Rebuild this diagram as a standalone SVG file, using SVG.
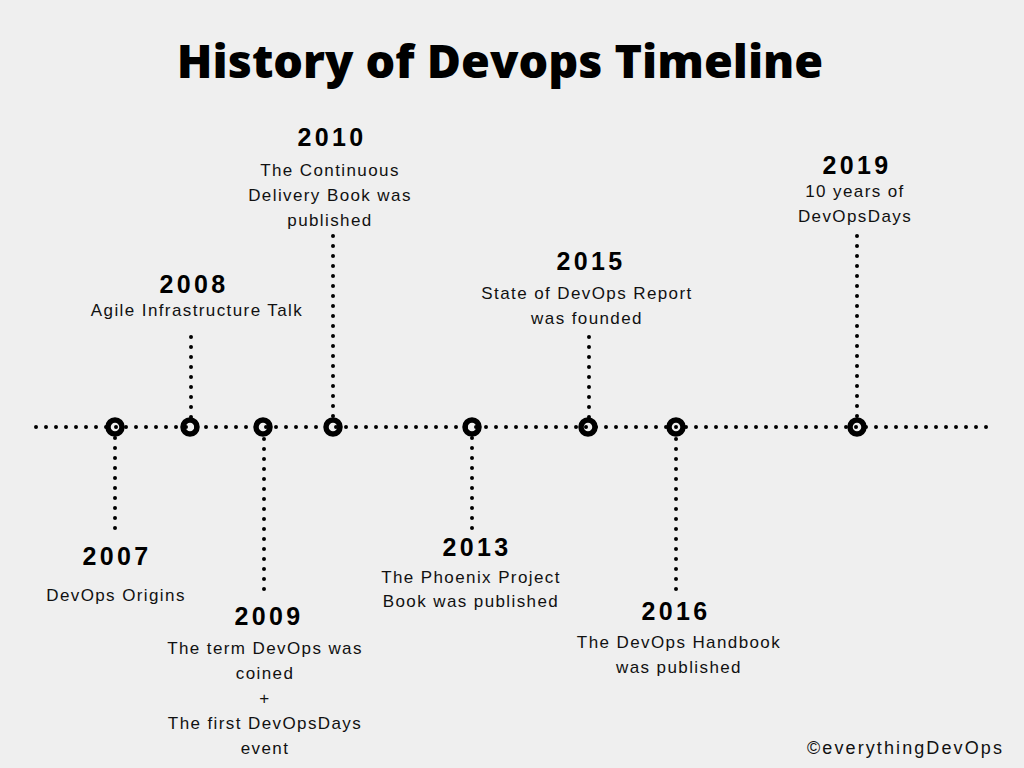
<svg xmlns="http://www.w3.org/2000/svg" width="1024" height="768" viewBox="0 0 1024 768">
<style>
.dot{fill:none;stroke:#000;stroke-width:4;stroke-linecap:round;stroke-dasharray:0 10}
.ring{fill:none;stroke:#000;stroke-width:5.5}
.yr{font-family:"Liberation Sans",Arial,sans-serif;font-weight:bold;font-size:25px;letter-spacing:3.3px;text-anchor:middle;fill:#000}
.tx{font-family:"Liberation Sans",Arial,sans-serif;font-size:17px;letter-spacing:1.4px;text-anchor:middle;fill:#111}
.title{font-family:"Open Sans",sans-serif;font-weight:800;font-size:46.7px;text-anchor:middle;fill:#000}
.copy{font-family:"Liberation Sans",Arial,sans-serif;font-size:18px;letter-spacing:2.1px;text-anchor:end;fill:#111}
</style>
<rect width="1024" height="768" fill="#efefef"/>
<text class="title" x="500" y="78">History of Devops Timeline</text>
<g id="connectors">
<line class="dot" x1="36" y1="427" x2="988" y2="427"/>
<line class="dot" x1="115" y1="528" x2="115" y2="435"/>
<line class="dot" x1="191" y1="337" x2="191" y2="419"/>
<line class="dot" x1="264" y1="589" x2="264" y2="435"/>
<line class="dot" x1="333" y1="236" x2="333" y2="419"/>
<line class="dot" x1="472" y1="528" x2="472" y2="435"/>
<line class="dot" x1="589" y1="337" x2="589" y2="419"/>
<line class="dot" x1="676" y1="589" x2="676" y2="435"/>
<line class="dot" x1="857" y1="236" x2="857" y2="419"/>
</g>
<g id="n2007"><circle class="ring" cx="115" cy="427" r="7"/><text class="yr" x="117" y="565">2007</text><text class="tx" x="116" y="601">DevOps Origins</text></g>
<g id="n2008"><circle class="ring" cx="190" cy="427" r="7"/><text class="yr" x="194" y="293">2008</text><text class="tx" x="197" y="316">Agile Infrastructure Talk</text></g>
<g id="n2009"><circle class="ring" cx="263" cy="427" r="7"/><text class="yr" x="269" y="625">2009</text><text class="tx" x="265" y="654">The term DevOps was</text><text class="tx" x="265" y="679">coined</text><text class="tx" x="265" y="704">+</text><text class="tx" x="265" y="729">The first DevOpsDays</text><text class="tx" x="265" y="754">event</text></g>
<g id="n2010"><circle class="ring" cx="333" cy="427" r="7"/><text class="yr" x="332" y="146">2010</text><text class="tx" x="330" y="176">The Continuous</text><text class="tx" x="330" y="201">Delivery Book was</text><text class="tx" x="330" y="226">published</text></g>
<g id="n2013"><circle class="ring" cx="472" cy="427" r="7"/><text class="yr" x="477" y="556">2013</text><text class="tx" x="471" y="583">The Phoenix Project</text><text class="tx" x="471" y="607">Book was published</text></g>
<g id="n2015"><circle class="ring" cx="588" cy="427" r="7"/><text class="yr" x="591" y="270">2015</text><text class="tx" x="587" y="299">State of DevOps Report</text><text class="tx" x="587" y="324">was founded</text></g>
<g id="n2016"><circle class="ring" cx="676" cy="427" r="7"/><text class="yr" x="676" y="620">2016</text><text class="tx" x="679" y="648">The DevOps Handbook</text><text class="tx" x="679" y="673">was published</text></g>
<g id="n2019"><circle class="ring" cx="857" cy="427" r="7"/><text class="yr" x="857" y="174">2019</text><text class="tx" x="855" y="197">10 years of</text><text class="tx" x="855" y="222">DevOpsDays</text></g>
<text class="copy" x="1004" y="754">©everythingDevOps</text>
</svg>
